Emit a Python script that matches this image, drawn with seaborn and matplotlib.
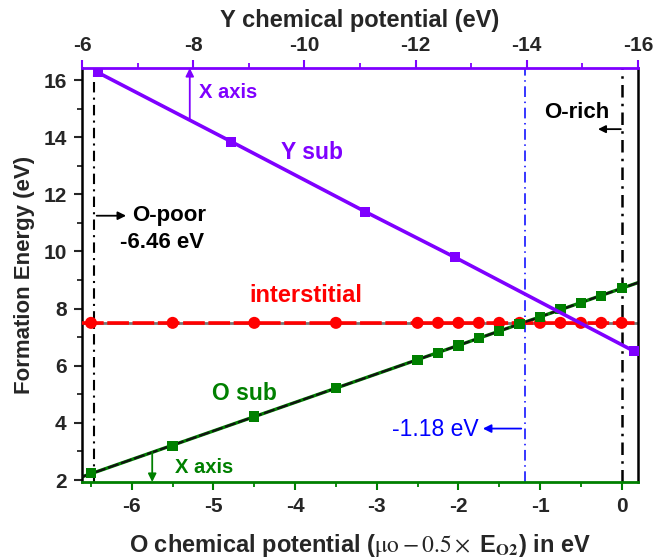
import numpy as np
import pandas as pd
import matplotlib
matplotlib.use("Agg")
import matplotlib.pyplot as plt
from matplotlib.ticker import MultipleLocator
import seaborn as sns

# ---------------- data ----------------
o_mu = [-6.5, -5.5, -4.5, -3.5, -2.5, -2.25, -2.0, -1.75, -1.5, -1.25,
        -1.0, -0.75, -0.5, -0.25, 0.0]
inter_E = [7.5, 7.5, 7.5, 7.5, 7.5, 7.5, 7.5, 7.5, 7.5, 7.5,
           7.5, 7.5, 7.5, 7.5, 7.5]
osub_E = [2.24, 3.19, 4.22, 5.22, 6.20, 6.45, 6.71, 6.98, 7.21, 7.46,
          7.71, 7.99, 8.20, 8.44, 8.71]
ysub_mu = [-6.42, -4.78, -3.14, -2.04, 0.15]
ysub_E = [16.27, 13.84, 11.39, 9.79, 6.51]

x_ticks = [-6, -5, -4, -3, -2, -1, 0]
y_ticks = [2, 4, 6, 8, 10, 12, 14, 16]
top_ticks = [-6, -8, -10, -12, -14, -16]
top_labels = ["-6", "-8", "-10", "-12", "-14", "-16"]

o_poor = -6.46
o_rich = 0.0
crossing = -1.18
x_range = (-6.61, 0.2)
y_range = (1.93, 16.42)
top_range = (-6, -16)

PURPLE = "#7F00FF"
GREEN = "#008000"
RED = "#FF0000"
BLUE = "#0000FF"

# ---------------- style ----------------
sns.set_style("ticks")
plt.rcParams["font.family"] = ["Liberation Sans", "DejaVu Sans"]
plt.rcParams["axes.unicode_minus"] = False
plt.rcParams["mathtext.fontset"] = "stix"

fig = plt.figure(figsize=(6.55, 5.6), dpi=100)
ax = fig.add_axes([82 / 655, 1 - 482 / 560, (638 - 82) / 655, (482 - 68) / 560])

df_o = pd.DataFrame({"mu": o_mu, "inter": inter_E, "osub": osub_E})
df_y = pd.DataFrame({"mu": ysub_mu, "E": ysub_E})

# interstitial: grey base line + red dashed line + red circles
ax.axhline(df_o["inter"].mean(), color="#777777", lw=2.0, zorder=2)
ax.axhline(df_o["inter"].mean(), color=RED, lw=2.6, ls=(0, (6, 1.0)), zorder=3)
sns.scatterplot(data=df_o, x="mu", y="inter", ax=ax, color=RED, marker="o",
                s=75, edgecolor="none", zorder=4, legend=False)

# O sub: green base + black dashed fit line + green squares
coef = np.polyfit(df_o["mu"], df_o["osub"], 1)
xs = np.array(x_range)
ax.plot(xs, np.polyval(coef, xs), color=GREEN, lw=2.4, zorder=2)
ax.plot(xs, np.polyval(coef, xs), color="#111111", lw=1.6,
        ls=(0, (5, 1.2)), zorder=3)
sns.scatterplot(data=df_o, x="mu", y="osub", ax=ax, color=GREEN, marker="s",
                s=55, edgecolor="none", zorder=4, legend=False)

# Y sub: purple line with squares
sns.lineplot(data=df_y, x="mu", y="E", ax=ax, color=PURPLE, lw=2.6,
             marker="s", markersize=7, markeredgewidth=0, zorder=5,
             legend=False, sort=False)

# vertical reference lines
ax.axvline(o_poor, color="black", lw=1.5, ls=(0, (5, 2.5, 1, 2.5)), zorder=1)
ax.axvline(o_rich, color="black", lw=1.8, ls=(0, (5, 2.5, 1, 2.5)), zorder=1)
ax.axvline(crossing, color=BLUE, lw=1.1, ls=(0, (7, 3, 1, 3)), zorder=1)

ax.set_xlim(*x_range)
ax.set_ylim(*y_range)
ax.set_xticks(x_ticks)
ax.set_yticks(y_ticks)
ax.xaxis.set_minor_locator(MultipleLocator(0.5))
ax.yaxis.set_minor_locator(MultipleLocator(1))

for lab in ax.get_xticklabels() + ax.get_yticklabels():
    lab.set_fontweight("bold")
ax.tick_params(axis="both", which="major", labelsize=15, width=1.5, length=6,
               direction="out", pad=5)
ax.tick_params(axis="both", which="minor", width=1.3, length=3.5, direction="out")
ax.tick_params(axis="x", which="both", color=GREEN)
ax.tick_params(axis="y", which="both", right=False)

for s in ["left", "right"]:
    ax.spines[s].set_linewidth(1.8)
    ax.spines[s].set_color("black")
ax.spines["right"].set_visible(True)
ax.spines["top"].set_visible(False)
ax.spines["bottom"].set_color(GREEN)
ax.spines["bottom"].set_linewidth(2)

ax.set_ylabel("Formation Energy (eV)", fontsize=16, fontweight="bold", labelpad=6)
ax.set_xlabel(r"O chemical potential ($\mathrm{\mu o}-0.5\times$ E$_{\mathbf{O2}}$) in eV",
              fontsize=17, fontweight="bold", labelpad=11)

# top axis: Y chemical potential
top = ax.twiny()
top.set_xlim(*top_range)
top.set_xticks(top_ticks)
top.set_xticklabels(top_labels, fontsize=15, fontweight="bold")
top.xaxis.set_minor_locator(MultipleLocator(1))
top.tick_params(axis="x", which="major", width=1.5, length=6, color=PURPLE, pad=3.5)
top.tick_params(axis="x", which="minor", width=1.3, length=3.5, color=PURPLE)
for s in ["left", "right", "bottom"]:
    top.spines[s].set_visible(False)
top.spines["top"].set_visible(True)
top.spines["top"].set_color(PURPLE)
top.spines["top"].set_linewidth(2)
top.set_xlabel("Y chemical potential (eV)", fontsize=17, fontweight="bold", labelpad=6)

# annotations
ax.annotate("", xy=(-5.29, y_range[1]), xytext=(-5.29, 14.62),
            arrowprops=dict(arrowstyle="-|>", color=PURPLE, lw=1.3,
                            mutation_scale=12, shrinkA=0, shrinkB=0))
ax.text(-5.18, 15.56, "X axis", color=PURPLE, fontsize=14.5, fontweight="bold",
        va="center", ha="left")
ax.text(-4.17, 13.45, "Y sub", color=PURPLE, fontsize=16.5, fontweight="bold",
        va="center", ha="left")
ax.text(-4.56, 8.45, "interstitial", color=RED, fontsize=17, fontweight="bold",
        va="center", ha="left")
ax.text(-5.02, 5.04, "O sub", color=GREEN, fontsize=16.5, fontweight="bold",
        va="center", ha="left")
ax.annotate("", xy=(-5.75, y_range[0]), xytext=(-5.75, 2.98),
            arrowprops=dict(arrowstyle="-|>", color=GREEN, lw=1.3,
                            mutation_scale=12, shrinkA=0, shrinkB=0))
ax.text(-5.47, 2.45, "X axis", color=GREEN, fontsize=14.5, fontweight="bold",
        va="center", ha="left")
ax.annotate("", xy=(-6.07, 11.25), xytext=(-6.43, 11.25),
            arrowprops=dict(arrowstyle="-|>", color="black", lw=1.3,
                            mutation_scale=12, shrinkA=0, shrinkB=0))
ax.text(-6.0, 11.25, "O-poor", color="black", fontsize=16, fontweight="bold",
        va="center", ha="left")
ax.text(-5.63, 10.31, "-6.46 eV", color="black", fontsize=16, fontweight="bold",
        va="center", ha="center")
ax.text(-0.945, 14.86, "O-rich", color="black", fontsize=16, fontweight="bold",
        va="center", ha="left")
ax.annotate("", xy=(-0.29, 14.28), xytext=(-0.01, 14.28),
            arrowprops=dict(arrowstyle="-|>", color="black", lw=1.3,
                            mutation_scale=11, shrinkA=0, shrinkB=0))
ax.annotate("", xy=(-1.70, 3.8), xytext=(-1.23, 3.8),
            arrowprops=dict(arrowstyle="-|>", color=BLUE, lw=1.3,
                            mutation_scale=12, shrinkA=0, shrinkB=0))
ax.text(-1.75, 3.75, "-1.18 eV", color=BLUE, fontsize=16.5,
        va="center", ha="right")

fig.savefig("out.png", dpi=100)
